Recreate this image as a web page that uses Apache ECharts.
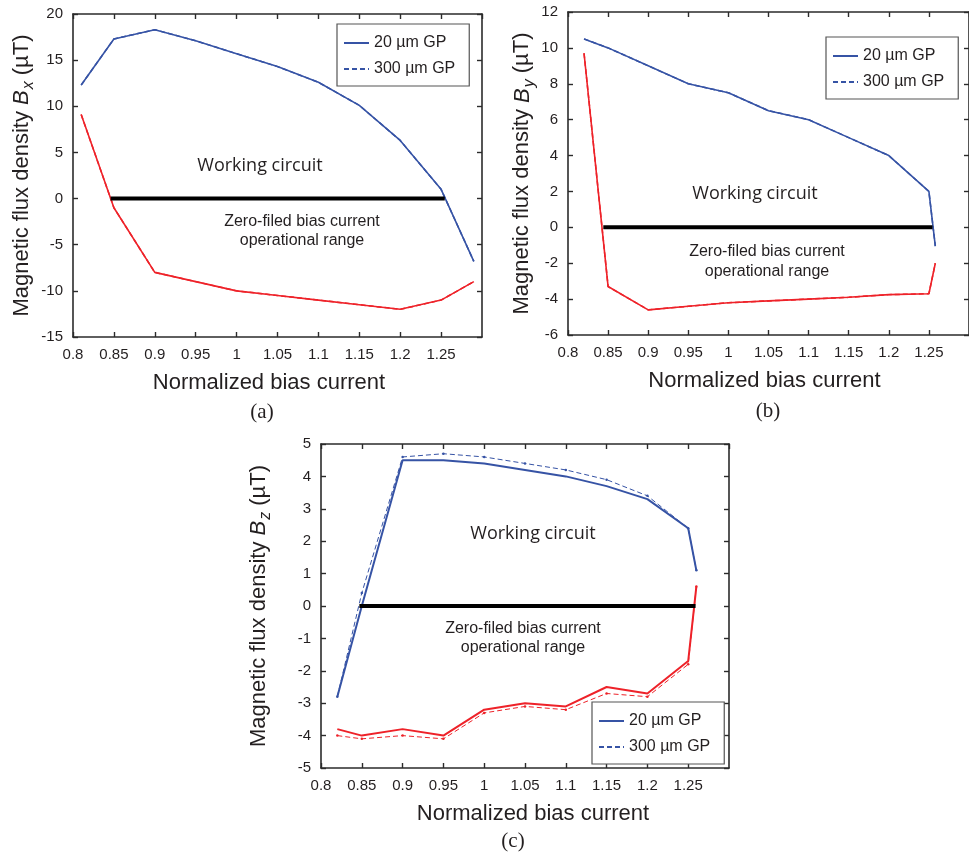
<!DOCTYPE html>
<html>
<head>
<meta charset="utf-8">
<script src="https://cdn.jsdelivr.net/npm/echarts@6/dist/echarts.min.js"></script>
<style>
  html, body { margin: 0; padding: 0; background: #fff; }
  #chart { width: 969px; height: 856px; }
</style>
</head>
<body>
<div id="chart"></div>
<script>
// ---- (a) B_x versus normalized bias current ----
const currentA   = [0.81, 0.85, 0.9, 0.95, 1.0, 1.05, 1.1, 1.15, 1.2, 1.25, 1.29];
const bxUpper20  = [12.3, 17.3, 18.3, 17.1, 15.7, 14.3, 12.6, 10.1, 6.3, 1.0, -6.8];
const bxUpper300 = [12.3, 17.3, 18.3, 17.1, 15.7, 14.3, 12.6, 10.1, 6.3, 1.0, -6.8];
const bxLower20  = [9.1, -1.0, -8.0, -9.0, -10.0, -10.5, -11.0, -11.5, -12.0, -11.0, -9.0];
const bxLower300 = [9.1, -1.0, -8.0, -9.0, -10.0, -10.5, -11.0, -11.5, -12.0, -11.0, -9.0];
const bxZeroSpan = [0.846, 1.2545];
const bxRange    = [-15, 20, 5];

// ---- (b) B_y versus normalized bias current ----
const currentB   = [0.82, 0.85, 0.9, 0.95, 1.0, 1.05, 1.1, 1.15, 1.2, 1.25, 1.258];
const byUpper20  = [10.5, 10.0, 9.0, 8.0, 7.5, 6.5, 6.0, 5.0, 4.0, 2.0, -1.05];
const byUpper300 = [10.5, 10.0, 9.0, 8.0, 7.5, 6.5, 6.0, 5.0, 4.0, 2.0, -1.05];
const byLower20  = [9.7, -3.3, -4.6, -4.4, -4.2, -4.1, -4.0, -3.9, -3.75, -3.7, -2.0];
const byLower300 = [9.7, -3.3, -4.6, -4.4, -4.2, -4.1, -4.0, -3.9, -3.75, -3.7, -2.0];
const byZeroSpan = [0.844, 1.2545];
const byRange    = [-6, 12, 2];

// ---- (c) B_z versus normalized bias current ----
const currentC   = [0.82, 0.85, 0.9, 0.95, 1.0, 1.05, 1.1, 1.15, 1.2, 1.25, 1.26];
const bzUpper20  = [-2.8, 0.0, 4.5, 4.5, 4.4, 4.2, 4.0, 3.7, 3.3, 2.4, 1.1];
const bzUpper300 = [-2.8, 0.4, 4.6, 4.7, 4.6, 4.4, 4.2, 3.9, 3.4, 2.4, 1.1];
const bzLower20  = [-3.8, -4.0, -3.8, -4.0, -3.2, -3.0, -3.1, -2.5, -2.7, -1.7, 0.6];
const bzLower300 = [-4.0, -4.1, -4.0, -4.1, -3.3, -3.1, -3.2, -2.7, -2.8, -1.8, 0.6];
const bzZeroSpan = [0.847, 1.259];
const bzRange    = [-5, 5, 1];

const currentRange = [0.8, 1.3, 0.05];
const legendNames  = ['20 µm GP', '300 µm GP'];

// ---- styling ----
const SANS = 'Liberation Sans, Arial, Helvetica, sans-serif';
const HUMANIST = 'Open Sans, Noto Sans, sans-serif';
const SERIF = 'Liberation Serif, Times New Roman, serif';
const INK = '#231f20';
const FRAME = '#2b2b2b';
const BLUE = '#3653a5';
const RED = '#ee2229';

const pair = (xs, ys) => xs.map((x, i) => [x, ys[i]]);
const fmt = v => String(Math.round(v * 100) / 100);

function xAxes(gridIndex, namePad) {
  const common = {
    type: 'value', gridIndex,
    min: currentRange[0], max: currentRange[1], interval: currentRange[2],
    splitLine: { show: false },
    axisLine: { show: true, onZero: false, lineStyle: { color: FRAME, width: 1.6 } },
    axisTick: { show: true, inside: true, length: 5, lineStyle: { color: FRAME, width: 1.4 } }
  };
  return [
    Object.assign({}, common, {
      position: 'bottom',
      name: 'Normalized bias current', nameLocation: 'middle', nameGap: 35,
      nameTextStyle: { fontFamily: SANS, fontSize: 22, color: INK, padding: namePad },
      axisLabel: { show: true, fontFamily: SANS, fontSize: 15, color: INK, margin: 10,
                   formatter: fmt, showMaxLabel: false }
    }),
    Object.assign({}, common, { position: 'top', axisLabel: { show: false } })
  ];
}

function yAxes(gridIndex, range, sub, gap) {
  const common = {
    type: 'value', gridIndex,
    min: range[0], max: range[1], interval: range[2],
    splitLine: { show: false },
    axisLine: { show: true, onZero: false, lineStyle: { color: FRAME, width: 1.6 } },
    axisTick: { show: true, inside: true, length: 5, lineStyle: { color: FRAME, width: 1.4 } }
  };
  return [
    Object.assign({}, common, {
      position: 'left',
      name: '{t|Magnetic flux density }{i|B}{s|' + sub + '}{t| (µT)}',
      nameLocation: 'middle', nameGap: gap, nameRotate: 90,
      nameTextStyle: {
        rich: {
          t: { fontFamily: SANS, fontSize: 22, color: INK, verticalAlign: 'bottom', padding: [0, 0, 4, 0] },
          i: { fontFamily: SANS, fontSize: 22, color: INK, fontStyle: 'italic', verticalAlign: 'bottom', padding: [0, 0, 4, 0] },
          s: { fontFamily: SANS, fontSize: 16, color: INK, fontStyle: 'italic', verticalAlign: 'bottom', padding: [0, 0, 0, 1] }
        }
      },
      axisLabel: { show: true, fontFamily: SANS, fontSize: 15, color: INK, margin: 10, formatter: fmt }
    }),
    Object.assign({}, common, { position: 'right', axisLabel: { show: false } })
  ];
}

// axes come in pairs per grid (bottom/top, left/right); series bind to the first of each pair
function lineSeries(name, grid, data, color, width, dashed, dots) {
  return {
    type: 'line', name,
    xAxisIndex: grid * 2, yAxisIndex: grid * 2,
    data,
    symbol: dots ? 'circle' : 'none', symbolSize: 2.5, showSymbol: !!dots,
    itemStyle: { color },
    lineStyle: { color, width, type: dashed ? [5, 3] : 'solid' },
    silent: true, animation: false,
    z: dashed ? 2 : 3
  };
}

function zeroSeries(grid, span) {
  return {
    type: 'line', name: 'zero-field span',
    xAxisIndex: grid * 2, yAxisIndex: grid * 2,
    data: [[span[0], 0], [span[1], 0]],
    symbol: 'none', lineStyle: { color: '#000', width: 4 },
    silent: true, animation: false, z: 5
  };
}

function legendAt(left, top) {
  return {
    orient: 'vertical', left, top,
    data: legendNames, selectedMode: false,
    itemWidth: 25, itemHeight: 12, itemGap: 10,
    padding: [11, 14, 9, 6],
    borderColor: '#555', borderWidth: 1.2, backgroundColor: '#fff',
    itemStyle: { opacity: 0 },
    textStyle: { fontFamily: SANS, fontSize: 16, color: INK }
  };
}

function label(text, x, y, font) {
  return {
    type: 'text', x, y, silent: true,
    style: { text, fill: INK, font, align: 'center', verticalAlign: 'middle',
             textAlign: 'center', textVerticalAlign: 'middle' }
  };
}

const xs = [].concat(xAxes(0, [0, 17, 0, 0]), xAxes(1, [0, 8, 0, 0]), xAxes(2, [0, 0, 0, 16]));
const ys = [].concat(yAxes(0, bxRange, 'x', 36), yAxes(1, byRange, 'y', 27), yAxes(2, bzRange, 'z', 47));

const series = [
  // (a)
  lineSeries('300 µm GP', 0, pair(currentA, bxUpper300), BLUE, 1.5, true, false),
  lineSeries('20 µm GP', 0, pair(currentA, bxUpper20), BLUE, 1.6, false, false),
  lineSeries('B_x lower, 300 µm', 0, pair(currentA, bxLower300), RED, 1.5, true, false),
  lineSeries('B_x lower, 20 µm', 0, pair(currentA, bxLower20), RED, 1.6, false, false),
  zeroSeries(0, bxZeroSpan),
  // (b)
  lineSeries('300 µm GP', 1, pair(currentB, byUpper300), BLUE, 1.5, true, false),
  lineSeries('20 µm GP', 1, pair(currentB, byUpper20), BLUE, 1.6, false, false),
  lineSeries('B_y lower, 300 µm', 1, pair(currentB, byLower300), RED, 1.5, true, false),
  lineSeries('B_y lower, 20 µm', 1, pair(currentB, byLower20), RED, 1.6, false, false),
  zeroSeries(1, byZeroSpan),
  // (c)
  lineSeries('300 µm GP', 2, pair(currentC, bzUpper300), BLUE, 1, true, true),
  lineSeries('20 µm GP', 2, pair(currentC, bzUpper20), BLUE, 2, false, false),
  lineSeries('B_z lower, 300 µm', 2, pair(currentC, bzLower300), RED, 1, true, true),
  lineSeries('B_z lower, 20 µm', 2, pair(currentC, bzLower20), RED, 2, false, false),
  zeroSeries(2, bzZeroSpan)
];

const chart = echarts.init(document.getElementById('chart'), null, { renderer: 'canvas' });
chart.setOption({
  backgroundColor: '#fff',
  animation: false,
  grid: [
    { left: 73, top: 14, width: 409, height: 323 },
    { left: 568, top: 12, width: 409, height: 323 },
    { left: 321, top: 444, width: 408, height: 324 }
  ],
  xAxis: xs,
  yAxis: ys,
  legend: [legendAt(337, 24), legendAt(826, 37), legendAt(592, 702)],
  series,
  graphic: [
    label('Working circuit', 260, 166, '18px ' + HUMANIST),
    label('Zero-filed bias current', 302, 222, '16px ' + SANS),
    label('operational range', 302, 241, '16px ' + SANS),
    label('Working circuit', 755, 194, '18px ' + HUMANIST),
    label('Zero-filed bias current', 767, 252, '16px ' + SANS),
    label('operational range', 767, 272, '16px ' + SANS),
    label('Working circuit', 533, 534, '18px ' + HUMANIST),
    label('Zero-filed bias current', 523, 629, '16px ' + SANS),
    label('operational range', 523, 648, '16px ' + SANS),
    label('(a)', 262, 412, '21px ' + SERIF),
    label('(b)', 768, 411, '21px ' + SERIF),
    label('(c)', 513, 841, '21px ' + SERIF)
  ]
});
</script>
</body>
</html>
